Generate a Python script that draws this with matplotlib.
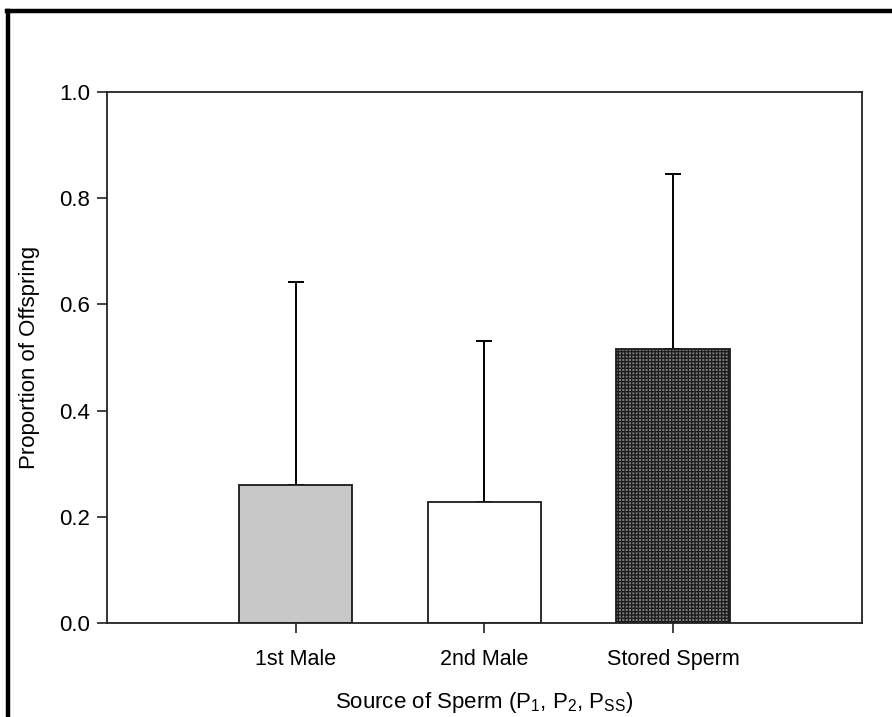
import matplotlib
matplotlib.use("Agg")
from matplotlib import pyplot as plt
from matplotlib.lines import Line2D
import numpy as np

plt.rcParams['font.family'] = ['Liberation Sans', 'DejaVu Sans']
plt.rcParams['hatch.linewidth'] = 0.9
plt.rcParams['mathtext.default'] = 'regular'

sources = ['1st Male', '2nd Male', 'Stored Sperm']
proportion = [0.259, 0.228, 0.516]
upper_err = [0.383, 0.303, 0.330]
face_colors = ['#c8c8c8', '#ffffff', '#7a7a7a']
hatches = ['', '', '+++++']

fig = plt.figure(figsize=(8.92, 7.17), dpi=100)
ax = fig.add_axes([0.12, 0.131, 0.846, 0.741])

x = np.arange(1, len(sources) + 1)
for i in range(len(sources)):
    ax.bar(x[i], proportion[i], width=0.6, color=face_colors[i], edgecolor='#1a1a1a',
           linewidth=1.3, hatch=hatches[i], zorder=2)

ax.errorbar(x, proportion, yerr=[np.zeros(len(x)), upper_err], fmt='none',
            ecolor='black', elinewidth=1.4, capsize=6, capthick=1.4, zorder=1)

ax.set_xlim(0, 4)
ax.set_ylim(0, 1.0)
ax.set_xticks(x)
ax.set_xticklabels(sources, fontsize=15.5)
ax.set_yticks([0.0, 0.2, 0.4, 0.6, 0.8, 1.0])
ax.set_yticklabels(['0.0', '0.2', '0.4', '0.6', '0.8', '1.0'], fontsize=16)
ax.tick_params(direction='out', length=7, width=1.2, color='#222222', pad=5)
ax.tick_params(axis='x', pad=12)
for s in ax.spines.values():
    s.set_linewidth(1.3)
    s.set_color('#222222')

ax.set_ylabel('Proportion of Offspring', fontsize=16, labelpad=14)
ax.set_xlabel('Source of Sperm (P$_1$, P$_2$, P$_{SS}$)', fontsize=16, labelpad=14)

# frame lines along the top and left edges of the picture
fig.add_artist(Line2D([0.0095, 0.0095], [0.0, 0.984], transform=fig.transFigure, color='black', linewidth=3.2))
fig.add_artist(Line2D([0.0075, 1.0], [0.984, 0.984], transform=fig.transFigure, color='black', linewidth=3.2))

fig.savefig('out.png', dpi=100, facecolor='white')
